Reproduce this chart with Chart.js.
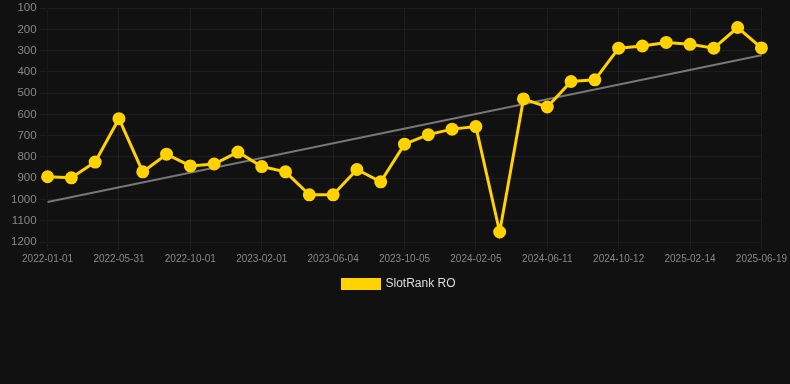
<!DOCTYPE html>
<html>
<head>
<meta charset="utf-8">
<script src="https://cdn.jsdelivr.net/npm/chart.js@4"></script>
<style>
  html, body { margin: 0; padding: 0; background: #111111; }
  .wrap { width: 790px; height: 300px; }
</style>
</head>
<body>
<div class="wrap"><canvas id="myChart"></canvas></div>
<script>
// dates (every third is shown on the axis)
const dates = [
  '2022-01-01', '2022-02-20', '2022-04-10', '2022-05-31', '2022-07-10', '2022-08-20',
  '2022-10-01', '2022-11-10', '2022-12-21', '2023-02-01', '2023-03-14', '2023-04-24',
  '2023-06-04', '2023-07-15', '2023-08-25', '2023-10-05', '2023-11-15', '2023-12-26',
  '2024-02-05', '2024-03-18', '2024-04-29', '2024-06-11', '2024-07-22', '2024-09-01',
  '2024-10-12', '2024-11-22', '2025-01-03', '2025-02-14', '2025-03-30', '2025-05-14',
  '2025-06-19'
];

// rank values, lower is better
const rankRO = [
  893, 898, 824, 620, 870, 787, 842, 833, 777, 845, 870, 978,
  978, 859, 917, 740, 695, 669, 657, 1153, 527, 565, 445, 437,
  288, 278, 261, 270, 288, 191, 287
];

// trend line ends
const trendStart = 1012;
const trendEnd = 321;

const yTicks = [100, 200, 300, 400, 500, 600, 700, 800, 900, 1000, 1100, 1200];

const trend = dates.map((d, i) => i === 0 ? trendStart : (i === dates.length - 1 ? trendEnd : null));

const ctx = document.getElementById('myChart');
new Chart(ctx, {
  type: 'line',
  data: {
    labels: dates,
    datasets: [
      {
        label: 'SlotRank RO',
        data: rankRO,
        borderColor: '#ffd200',
        backgroundColor: '#ffd200',
        borderWidth: 3,
        pointRadius: 5,
        pointHoverRadius: 5,
        tension: 0
      },
      {
        label: 'trend',
        data: trend,
        borderColor: '#777777',
        borderWidth: 2,
        pointRadius: 0,
        spanGaps: true,
        tension: 0
      }
    ]
  },
  options: {
    responsive: true,
    maintainAspectRatio: false,
    animation: false,
    layout: { padding: { left: 8, right: 0, top: 0, bottom: 0 } },
    plugins: {
      legend: {
        position: 'bottom',
        labels: {
          color: '#dddddd',
          boxWidth: 37,
          boxHeight: 9,
          font: { size: 12 },
          filter: item => item.text !== 'trend'
        }
      },
      tooltip: { enabled: false }
    },
    scales: {
      x: {
        grid: { color: 'rgba(255,255,255,0.05)' },
        ticks: {
          color: '#888888',
          font: { size: 10 },
          maxRotation: 0,
          autoSkip: true
        }
      },
      y: {
        reverse: true,
        min: 100,
        max: 1200,
        grid: { color: 'rgba(255,255,255,0.05)' },
        afterBuildTicks: axis => { axis.ticks = yTicks.map(v => ({ value: v })); },
        ticks: {
          color: '#888888',
          font: { size: 11.5, lineHeight: 0.9 },
          callback: v => String(v)
        }
      }
    }
  }
});
</script>
</body>
</html>
